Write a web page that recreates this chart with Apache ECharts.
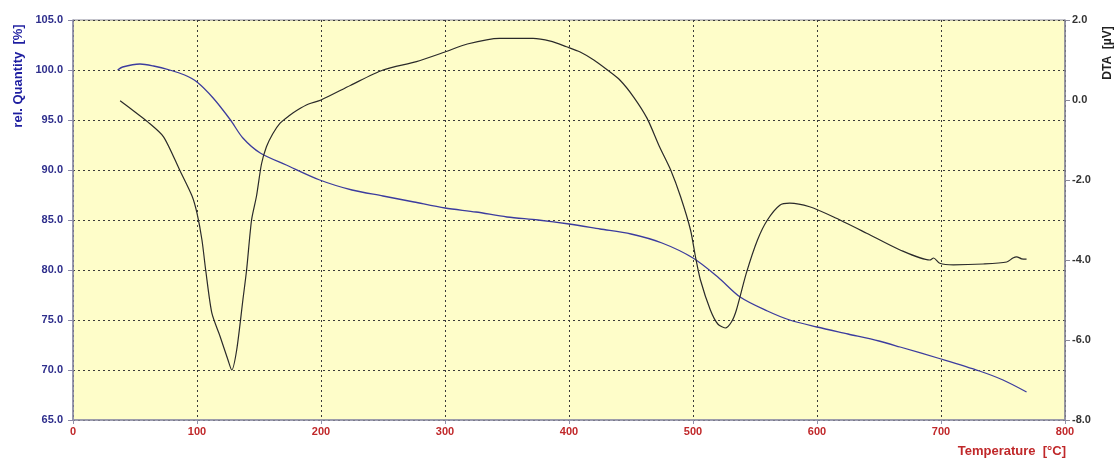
<!DOCTYPE html>
<html><head><meta charset="utf-8">
<script src="https://cdn.jsdelivr.net/npm/echarts@6/dist/echarts.min.js"></script>
<style>html,body{margin:0;padding:0;background:#fff}#c{width:1118px;height:459px}</style>
</head><body><div id="c"></div>
<script>
// TG curve: [temperature °C, rel. quantity %]
const tgTemp = [36,40,54,65,78,90,100,113,127,137,151,172,199,225,250,275,300,325,350,375,400,425,450,475,500,520,538,560,578,600,625,650,667,700,731,750,769];
const tgVal  = [100.0,100.3,100.6,100.4,100.0,99.5,98.8,97.2,95.0,93.2,91.7,90.5,89.0,88.0,87.4,86.8,86.2,85.8,85.3,85.0,84.6,84.1,83.6,82.7,81.2,79.3,77.3,75.9,75.0,74.3,73.6,72.9,72.3,71.1,69.9,69.0,67.8];
// DTA curve: [temperature °C, µV]
const dtaTemp = [38,50,60,73,86,96,100,104,107,112,118.5,125,128,132,137,140,144,148,152,156,161,167,174,181,190,200,224,250,277,300,318,344,371,385,398,409,420,431,441,452,463,473,482,490,498,502,506,514,520,526,531,535,543,552,560,570,578,594,613,640,667,691,694,699,710,734,753,758,761,765,769];
const dtaVal  = [-0.02,-0.3,-0.54,-0.92,-1.75,-2.4,-2.83,-3.5,-4.25,-5.33,-5.9,-6.5,-6.75,-6.25,-5.0,-4.25,-3.0,-2.4,-1.6,-1.17,-0.85,-0.58,-0.4,-0.25,-0.1,0.0,0.37,0.75,0.96,1.2,1.4,1.54,1.54,1.47,1.33,1.2,1.0,0.75,0.5,0.08,-0.46,-1.17,-1.75,-2.42,-3.25,-3.92,-4.5,-5.25,-5.6,-5.7,-5.55,-5.25,-4.33,-3.5,-3.0,-2.63,-2.58,-2.67,-2.92,-3.33,-3.75,-4.0,-3.95,-4.08,-4.12,-4.1,-4.05,-3.95,-3.92,-3.97,-3.98];

const tgData = tgTemp.map((t,i)=>[t,tgVal[i]]);
const dtaData = dtaTemp.map((t,i)=>[t,dtaVal[i]]);
const chart = echarts.init(document.getElementById('c'));
const F = 'Liberation Sans, Arial, sans-serif';
chart.setOption({
  animation:false,
  backgroundColor:'#ffffff',
  grid:{left:73,right:53,top:20,bottom:39,show:true,backgroundColor:'#FEFDC9',borderColor:'#8a8a9a',borderWidth:1},
  xAxis:{type:'value',min:0,max:800,interval:100,
    axisLine:{show:true,onZero:false,lineStyle:{color:'#9090a8',width:1.5}},
    axisTick:{show:true,length:4,lineStyle:{color:'#9090a8'}},
    axisLabel:{color:'#C0282A',fontFamily:F,fontWeight:'bold',fontSize:11,margin:6},
    splitLine:{show:true,lineStyle:{color:'#3a3a3a',type:[2,3],width:1}}},
  yAxis:[
    {type:'value',min:65,max:105,interval:5,position:'left',
     axisLine:{show:true,onZero:false,lineStyle:{color:'#8a8aa8',width:1.5}},
     axisTick:{show:true,length:5,lineStyle:{color:'#8a8aa8'}},
     axisLabel:{color:'#2E2E8C',fontFamily:F,fontWeight:'bold',fontSize:11,margin:10,formatter:v=>v.toFixed(1)},
     splitLine:{show:true,lineStyle:{color:'#3a3a3a',type:[2,3],width:1}}},
    {type:'value',min:-8,max:2,interval:2,position:'right',
     axisLine:{show:true,onZero:false,lineStyle:{color:'#8a8a9a',width:1.5}},
     axisTick:{show:true,length:5,lineStyle:{color:'#8a8a9a'}},
     axisLabel:{color:'#333',fontFamily:F,fontWeight:'bold',fontSize:11,margin:7,formatter:v=>v.toFixed(1)},
     splitLine:{show:false}}
  ],
  series:[
    {type:'line',yAxisIndex:0,data:tgData,smooth:0.3,showSymbol:false,lineStyle:{color:'#3C3C9E',width:1.3}},
    {type:'line',yAxisIndex:1,data:dtaData,smooth:0.25,showSymbol:false,lineStyle:{color:'#2a2a2a',width:1.2}}
  ],
  graphic:[
    {type:'text',x:18,y:76,rotation:Math.PI/2,style:{text:'rel. Quantity  [%]',fill:'#1E1EA0',font:'bold 13px '+F,textAlign:'center',textVerticalAlign:'middle'}},
    {type:'text',x:1108,y:53,rotation:Math.PI/2,style:{text:'DTA  [µV]',fill:'#222',font:'bold 12px '+F,textAlign:'center',textVerticalAlign:'middle'}},
    {type:'text',x:1066,y:451,style:{text:'Temperature  [°C]',fill:'#C0282A',font:'bold 13px '+F,textAlign:'right',textVerticalAlign:'middle'}}
  ]
});
</script></body></html>
